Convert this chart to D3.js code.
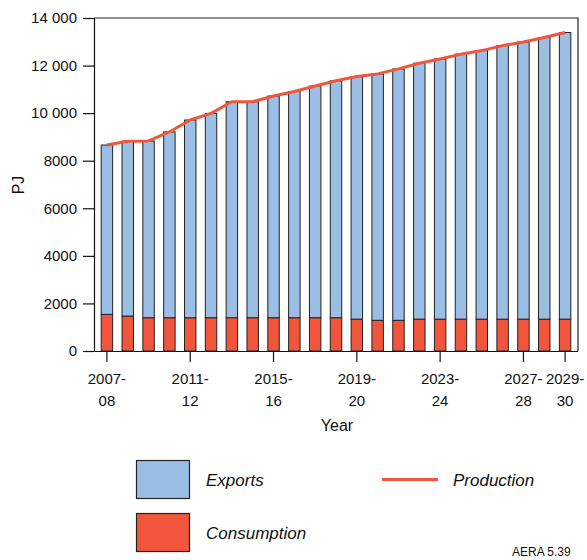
<!DOCTYPE html>
<html><head><meta charset="utf-8">
<script src="https://cdn.jsdelivr.net/npm/d3@7"></script>
<style>body{margin:0;background:#fff}svg{display:block;font-family:"Liberation Sans",Arial,sans-serif}</style>
</head><body><svg id="c" width="587" height="560"></svg>
<script>
const years = ["2007-08","2008-09","2009-10","2010-11","2011-12","2012-13","2013-14","2014-15","2015-16","2016-17","2017-18","2018-19","2019-20","2020-21","2021-22","2022-23","2023-24","2024-25","2025-26","2026-27","2027-28","2028-29","2029-30"];
const consumption = [1540,1470,1400,1400,1400,1400,1400,1400,1400,1400,1400,1400,1340,1290,1290,1340,1340,1340,1340,1340,1340,1340,1340];
const exports = [7120,7350,7430,7810,8310,8590,9080,9080,9320,9510,9740,9960,10200,10360,10570,10760,10940,11140,11290,11500,11650,11840,12050];
const production = [8660,8820,8830,9210,9710,9990,10480,10480,10720,10910,11140,11360,11540,11650,11860,12100,12280,12480,12630,12840,12990,13180,13390];
const yTicks = [0,2000,4000,6000,8000,10000,12000,14000];
const xTickYears = ["2007-08","2011-12","2015-16","2019-20","2023-24","2027-28","2029-30"];

const BLUE="#9abee4", RED="#f1563c", LINE="#f0563c";
const svg = d3.select("#c");
const L=94,R=578,T=18,B=351;
const x = d3.scaleBand().domain(years).range([L,R]).paddingInner(0.45).paddingOuter(0.345);
const y = d3.scaleLinear().domain([0,14000]).range([B,T]);

svg.append("path").attr("d",`M${L},${T}H${R}V${B}`).attr("fill","none").attr("stroke","#222").attr("stroke-width",1.2);

const g = svg.append("g");
years.forEach((yr,i)=>{
  g.append("rect").attr("x",x(yr)).attr("width",x.bandwidth())
   .attr("y",y(consumption[i])).attr("height",y(0)-y(consumption[i]))
   .attr("fill",RED).attr("stroke","#222").attr("stroke-width",1);
  g.append("rect").attr("x",x(yr)).attr("width",x.bandwidth())
   .attr("y",y(consumption[i]+exports[i])).attr("height",y(consumption[i])-y(consumption[i]+exports[i]))
   .attr("fill",BLUE).attr("stroke","#222").attr("stroke-width",1);
});

svg.append("path").datum(production)
  .attr("d",d3.line().x((d,i)=>x(years[i])+x.bandwidth()/2).y(d=>y(d)))
  .attr("fill","none").attr("stroke",LINE).attr("stroke-width",3).attr("stroke-linejoin","round");

const fmt = v => v>=10000 ? d3.format(",")(v).replace(","," ") : String(v);
const ya = svg.append("g").attr("transform",`translate(${L},0)`)
  .call(d3.axisLeft(y).tickValues(yTicks).tickFormat(fmt).tickSize(11).tickPadding(6));
ya.selectAll("text").attr("font-size",15).attr("fill","#111").attr("font-family","Liberation Sans, Arial, sans-serif");
ya.selectAll("line,path").attr("stroke","#111").attr("stroke-width",1.2);

const xa = svg.append("g").attr("transform",`translate(0,${B})`)
  .call(d3.axisBottom(x).tickValues(xTickYears).tickSize(11).tickSizeOuter(0).tickFormat(""));
xa.selectAll("line,path").attr("stroke","#111").attr("stroke-width",1.2);
xa.select("path").attr("d",`M${L},0.5H${R}`);
xTickYears.forEach(yr=>{
  const cx = x(yr)+x.bandwidth()/2;
  const parts = yr.split("-");
  const t = svg.append("text").attr("x",cx).attr("text-anchor","middle").attr("font-size",15).attr("fill","#111");
  t.append("tspan").attr("x",cx).attr("y",384).text(parts[0]+"-");
  t.append("tspan").attr("x",cx).attr("y",406).text(parts[1]);
});

svg.append("text").attr("x",337).attr("y",431).attr("text-anchor","middle").attr("font-size",16).attr("fill","#111").text("Year");
svg.append("text").attr("transform","translate(24,185) rotate(-90)").attr("text-anchor","middle").attr("font-size",16).attr("fill","#111").text("PJ");

svg.append("rect").attr("x",136.5).attr("y",460.5).attr("width",53).attr("height",38).attr("fill",BLUE).attr("stroke","#222").attr("stroke-width",1.2);
svg.append("rect").attr("x",136.5).attr("y",513.5).attr("width",53).attr("height",38).attr("fill",RED).attr("stroke","#222").attr("stroke-width",1.2);
svg.append("text").attr("x",206).attr("y",486).attr("font-size",17).attr("font-style","italic").attr("fill","#111").text("Exports");
svg.append("text").attr("x",206).attr("y",539).attr("font-size",17).attr("font-style","italic").attr("fill","#111").text("Consumption");
svg.append("line").attr("x1",382).attr("x2",438).attr("y1",479.5).attr("y2",479.5).attr("stroke",LINE).attr("stroke-width",3);
svg.append("text").attr("x",453).attr("y",486).attr("font-size",17).attr("font-style","italic").attr("fill","#111").text("Production");
svg.append("text").attr("x",512).attr("y",556).attr("font-size",12).attr("fill","#111").text("AERA 5.39");
</script></body></html>
